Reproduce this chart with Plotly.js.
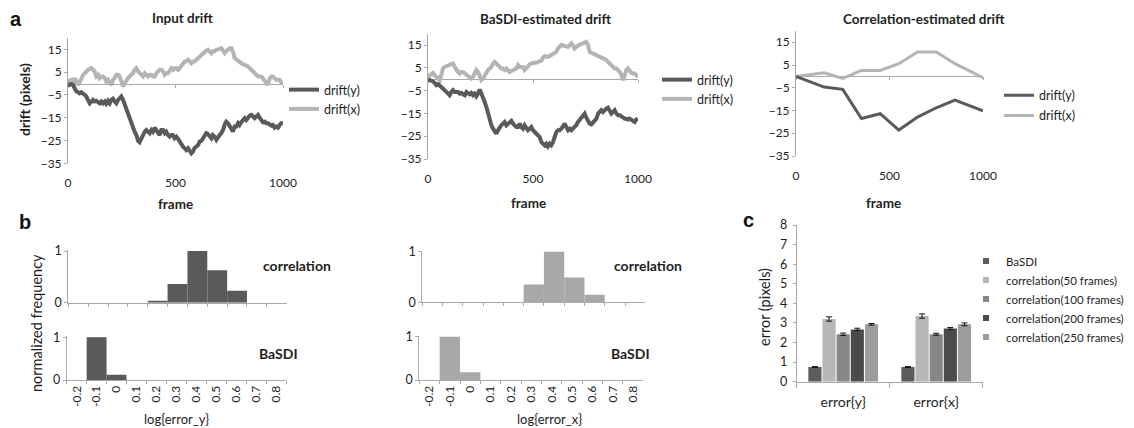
<!DOCTYPE html>
<html><head><meta charset="utf-8">
<script src="https://cdn.plot.ly/plotly-3.0.1.min.js"></script>
<style>html,body{margin:0;padding:0;background:#fff}#chart{width:1134px;height:428px}</style>
</head><body><div id="chart"></div>
<script>
// ---------------- data ----------------
const inputFrames = [0,8,16,23,31,39,47,54,62,70,78,85,93,101,109,116,124,132,140,147,155,163,171,178,186,194,202,209,217,225,233,240,248,256,264,271,279,287,295,302,310,318,326,333,341,349,357,364,372,380,388,395,403,411,419,426,434,442,450,457,465,473,481,488,496,504,512,519,527,535,543,550,558,566,574,581,589,597,605,612,620,628,636,643,651,659,667,674,682,690,698,705,713,721,729,736,744,752,760,767,775,783,791,798,806,814,822,829,837,845,853,860,868,876,884,891,899,907,915,922,930,938,946,953,961,969,977,984,992,1000];
const inputDriftY = [0,-0.6,-0.3,-0.5,-2.1,-3.5,-3.8,-4.3,-3.8,-4.7,
 -5.0,-5.7,-7.2,-8.7,-7.9,-7.2,-7.9,-7.6,-8.2,-8.7,
 -7.9,-8.7,-7.9,-8.9,-7.6,-8.7,-7.2,-6.7,-7.9,-8.7,
 -7.2,-6.3,-5.7,-7.2,-9.4,-10.9,-13.8,-16.0,-18.2,-19.6,
 -21.1,-22.6,-25.2,-25.8,-24.0,-21.8,-21.1,-20.4,-21.1,-21.8,
 -20.4,-21.1,-19.4,-20.4,-21.1,-22.6,-20.4,-20.4,-21.8,-21.1,
 -22.6,-23.3,-22.6,-22.6,-24.0,-23.3,-24.3,-25.5,-26.2,-27.7,
 -28.4,-29.2,-28.4,-29.9,-30.6,-29.9,-28.2,-27.7,-27.0,-25.5,
 -25.2,-24.0,-22.6,-21.8,-22.2,-23.3,-24.0,-22.6,-23.3,-24.7,
 -23.3,-22.6,-21.8,-20.4,-17.9,-16.7,-17.4,-18.9,-19.6,-21.1,
 -18.9,-18.9,-17.4,-18.2,-17.0,-16.0,-15.2,-16.0,-15.0,-14.1,
 -13.8,-14.5,-15.2,-14.5,-13.8,-15.0,-16.0,-17.0,-16.7,-17.4,
 -17.4,-18.2,-18.5,-18.2,-19.4,-18.9,-19.4,-18.2,-17.4,-17.6];
const inputDriftX = [0.9,1.2,1.6,0.2,2.3,1.0,-0.6,0.5,2.3,3.8,
 4.5,5.3,6.0,6.4,6.7,6.0,5.3,3.1,3.8,2.3,
 3.1,3.1,2.3,0.9,1.6,0.2,-0.6,1.6,2.3,3.8,
 3.8,3.1,0.9,-1.3,0.2,1.6,2.3,3.1,3.8,4.5,
 6.0,6.7,5.3,4.5,3.8,3.1,4.5,3.8,3.1,3.8,
 3.8,3.1,3.1,4.5,5.3,6.0,6.0,5.3,3.8,4.5,
 4.5,5.3,6.7,6.0,6.7,6.7,6.0,6.7,7.5,8.9,
 9.7,9.7,10.4,9.7,8.9,9.7,9.7,10.4,11.1,11.8,
 12.6,13.3,14.1,14.4,14.8,13.9,13.3,14.1,14.1,14.8,
 14.8,15.2,15.5,14.4,13.3,14.1,14.8,15.5,15.5,14.1,
 11.1,10.4,9.7,9.2,8.9,8.5,8.2,7.8,7.5,6.7,
 6.0,5.3,4.5,3.8,3.1,3.1,3.1,2.3,0.9,0.2,
 -0.6,2.3,3.1,3.1,2.3,1.6,1.6,1.6,0.5,-0.3];

const basdiFrames = [0,8,16,24,32,40,48,56,63,71,79,87,95,103,111,119,127,135,143,151,159,167,175,183,190,198,206,214,222,230,238,246,254,262,270,278,286,294,302,310,317,325,333,341,349,357,365,373,381,389,397,405,413,421,429,437,444,452,460,468,476,484,492,500,508,516,524,532,540,548,556,563,571,579,587,595,603,611,619,627,635,643,651,659,667,675,683,690,698,706,714,722,730,738,746,754,762,770,778,786,794,802,810,817,825,833,841,849,857,865,873,881,889,897,905,913,921,929,937,944,952,960,968,976,984,992,1000];
const basdiDriftY = [0,-0.2,-0.4,-1.0,-1.6,-2.6,-2.2,-3.1,-3.7,-4.1,
 -4.8,-5.6,-6.3,-7.0,-5.6,-4.8,-5.6,-5.6,-5.6,-6.3,
 -6.0,-6.6,-7.0,-5.6,-6.3,-6.6,-6.0,-7.0,-6.3,-7.5,
 -6.3,-4.5,-6.3,-7.8,-10.0,-12.2,-15.1,-18.0,-20.2,-21.7,
 -23.2,-23.9,-22.4,-21.0,-20.2,-19.5,-18.8,-20.2,-19.5,-18.8,
 -18.3,-19.5,-20.2,-21.0,-21.0,-19.5,-21.0,-21.7,-20.2,-21.0,
 -22.4,-21.7,-21.0,-22.4,-23.2,-23.9,-24.6,-25.4,-27.6,-28.3,
 -29.0,-28.3,-29.5,-28.3,-29.0,-27.6,-25.4,-23.2,-22.4,-22.4,
 -21.7,-20.2,-19.5,-21.0,-22.4,-21.7,-22.4,-21.7,-21.0,-20.2,
 -18.8,-18.0,-16.6,-15.8,-15.1,-16.9,-18.0,-19.5,-19.8,-18.8,
 -18.0,-17.3,-15.1,-14.4,-13.6,-14.4,-13.3,-12.9,-12.5,-13.6,
 -15.1,-14.4,-13.6,-15.1,-15.8,-15.8,-16.3,-16.9,-17.3,-17.3,
 -17.7,-17.3,-18.0,-18.3,-18.8,-17.7,-17.3];
const basdiDriftX = [1.0,1.8,2.5,2.8,1.8,1.0,0.3,-0.4,1.8,4.7,
 5.4,5.7,6.0,6.2,6.5,6.9,5.4,4.0,3.2,2.5,
 3.2,3.2,2.5,1.8,1.4,1.0,0.3,1.0,2.5,4.0,
 3.2,1.0,-0.4,0.3,1.8,3.2,4.0,4.7,5.4,6.9,
 7.6,6.9,6.2,5.4,4.7,4.7,4.0,4.7,4.0,3.2,
 3.6,4.0,4.4,4.7,6.2,5.4,5.4,5.4,4.0,5.0,
 6.2,6.5,6.9,6.9,6.9,7.3,7.6,7.8,8.1,9.5,
 10.1,10.0,9.8,10.2,10.6,10.9,11.3,12.0,13.5,14.2,
 15.0,14.8,14.5,14.4,14.2,15.0,15.7,14.8,13.5,14.2,
 15.0,15.2,15.4,15.7,16.0,16.4,15.0,12.0,11.6,11.3,
 11.0,10.6,10.3,10.1,9.5,9.1,8.8,8.4,7.6,6.9,
 6.2,5.4,4.7,4.7,4.0,3.2,1.8,-0.4,1.8,4.0,
 4.7,3.6,2.8,2.5,2.5,1.8,1.0];

const corrFrames = [0,150,250,350,450,550,650,750,850,1000];
const corrDriftY = [0,-4.7,-5.7,-18.5,-16.4,-23.6,-17.9,-13.8,-10.4,-15.2];
const corrDriftX = [0,1.6,-0.9,2.6,2.6,5.6,10.7,10.7,5.6,-0.6];

const driftTicks = [-35,-25,-15,-5,5,15];
const frameTicks = [0,500,1000];

const histBins = ["-0.2","-0.1","0","0.1","0.2","0.3","0.4","0.5","0.6","0.7","0.8"];
const histCorrErrY  = [0,0,0,0,0.04,0.36,1.0,0.63,0.23,0,0];
const histBasdiErrY = [0,1.0,0.12,0,0,0,0,0,0,0,0];
const histCorrErrX  = [0,0,0,0,0,0.35,1.0,0.49,0.15,0,0];
const histBasdiErrX = [0,1.0,0.18,0,0,0,0,0,0,0,0];

const errCategories = ["error{y}","error{x}"];
const errSeriesNames = ["BaSDI","correlation(50 frames)","correlation(100 frames)","correlation(200 frames)","correlation(250 frames)"];
const errBasdi   = [0.75,0.75];  const errBasdiSd   = [0.02,0.02];
const errCorr50  = [3.20,3.35];  const errCorr50Sd  = [0.11,0.11];
const errCorr100 = [2.42,2.42];  const errCorr100Sd = [0.06,0.05];
const errCorr200 = [2.67,2.72];  const errCorr200Sd = [0.06,0.05];
const errCorr250 = [2.93,2.93];  const errCorr250Sd = [0.04,0.07];

// ---------------- styling ----------------
const W = 1134, H = 428;
const P = x => x / W;
const Q = y => 1 - y / H;
const xdom = (l, r) => [P(l), P(r)];
const ydom = (b, t) => [Q(b), Q(t)];
const FONT = 'Lato, "Open Sans", "Liberation Sans", sans-serif';
const TXT = '#1e1e1e';
const AX = '#a9a9a9';
const DARK = '#5a5a5a', LIGHT = '#b4b4b4';
const HIST_DARK = '#5a5a5a', HIST_LIGHT = '#a8a8a8';
const BAR_COLORS = ['#5c5c5c','#b7b7b7','#878787','#4b4b4b','#9c9c9c'];
const TICK = 12;

const yRangeA = [-35, 20];
function zeroPos(dom){ return dom[0] + (0 - yRangeA[0]) / (yRangeA[1] - yRangeA[0]) * (dom[1] - dom[0]); }

const domA = [
  {x: xdom(68, 283), y: ydom(163.3, 37.9)},
  {x: xdom(428, 638), y: ydom(159, 33.6)},
  {x: xdom(796, 983), y: ydom(156, 30.9)}
];

const layout = {
  width: W, height: H, margin: {l:0, r:0, t:0, b:0},
  paper_bgcolor: '#fff', plot_bgcolor: 'rgba(0,0,0,0)',
  font: {family: FONT, color: TXT, size: 12},
  barmode: 'group', bargap: 0.24, bargroupgap: 0.07,
  showlegend: true,
  annotations: []
};

function aY(i, anchor){
  return {domain: domA[i].y, range: yRangeA, tickvals: driftTicks, ticks: 'outside', ticklen: 3,
    tickcolor: AX, showline: true, linecolor: AX, linewidth: 1, showgrid: false, zeroline: false,
    tickfont: {size: TICK, color: TXT}, anchor: anchor, fixedrange: true};
}
function aX(i, anchor){
  return {domain: domA[i].x, range: [0, 1000], tickvals: frameTicks, ticks: '', showline: false,
    showgrid: false, zeroline: false, tickfont: {size: TICK, color: TXT}, anchor: anchor,
    ticklabelstandoff: 11, fixedrange: true};
}
function aXzero(i, base){
  return {overlaying: base, anchor: 'free', position: zeroPos(domA[i].y), range: [0, 1000],
    tickvals: frameTicks, ticks: 'outside', ticklen: 3, tickcolor: AX, showline: true, linecolor: AX,
    linewidth: 1, showticklabels: false, showgrid: false, zeroline: false, layer: 'below traces', fixedrange: true};
}
layout.xaxis = aX(0, 'y');   layout.yaxis = aY(0, 'x');
layout.xaxis2 = aX(1, 'y2'); layout.yaxis2 = aY(1, 'x2');
layout.xaxis3 = aX(2, 'y3'); layout.yaxis3 = aY(2, 'x3');
layout.xaxis9 = aXzero(0, 'x');
layout.xaxis10 = aXzero(1, 'x2');
layout.xaxis11 = aXzero(2, 'x3');

function hX(dx, anchor, labels){
  return {domain: dx, type: 'category', categoryorder: 'array', categoryarray: histBins,
    range: [-0.5, histBins.length - 0.5], tickson: 'boundaries', ticks: 'outside', ticklen: 3,
    tickcolor: AX, showline: true, linecolor: AX, showgrid: false, zeroline: false,
    showticklabels: labels, tickangle: -90, tickfont: {size: 12, color: TXT}, anchor: anchor, fixedrange: true};
}
function hY(dy, anchor){
  return {domain: dy, range: [0, 1.02], tickvals: [0, 1], ticks: 'outside', ticklen: 3, tickcolor: AX,
    showline: true, linecolor: AX, showgrid: false, zeroline: false, tickfont: {size: 12.5, color: TXT},
    anchor: anchor, fixedrange: true};
}
layout.xaxis4 = hX(xdom(68.3, 286.7), 'y4', false); layout.yaxis4 = hY(ydom(302.7, 250), 'x4');
layout.xaxis5 = hX(xdom(66.7, 286), 'y5', true);    layout.yaxis5 = hY(ydom(380, 336.4), 'x5');
layout.xaxis6 = hX(xdom(422.3, 645.3), 'y6', false); layout.yaxis6 = hY(ydom(302.3, 250.7), 'x6');
layout.xaxis7 = hX(xdom(419.3, 643.3), 'y7', true);  layout.yaxis7 = hY(ydom(380, 335.8), 'x7');

layout.xaxis8 = {domain: xdom(796.7, 982.7), type: 'category', categoryorder: 'array', categoryarray: errCategories,
  range: [-0.5, 1.5], tickson: 'boundaries', ticks: 'outside', ticklen: 5, tickcolor: AX, showline: true,
  linecolor: AX, showgrid: false, zeroline: false, tickfont: {size: 14, color: TXT}, ticklabelstandoff: 7,
  anchor: 'y8', fixedrange: true};
layout.yaxis8 = {domain: ydom(381.7, 225), range: [0, 8], dtick: 1, ticks: 'outside', ticklen: 3, tickcolor: AX,
  showline: true, linecolor: AX, showgrid: false, zeroline: false, tickfont: {size: 12.5, color: TXT},
  ticklabelstandoff: 3, anchor: 'x8', fixedrange: true};

// legends
const legBase = {xanchor: 'left', yanchor: 'top', font: {size: 12.5, color: TXT}, bgcolor: 'rgba(0,0,0,0)',
  borderwidth: 0, itemclick: false, itemdoubleclick: false, tracegroupgap: 0};
layout.legend  = Object.assign({}, legBase, {x: P(284), y: Q(75)});
layout.legend2 = Object.assign({}, legBase, {x: P(657), y: Q(65)});
layout.legend3 = Object.assign({}, legBase, {x: P(999), y: Q(80.5), tracegroupgap: 1});
layout.legend4 = Object.assign({}, legBase, {x: P(966), y: Q(246.5), font: {size: 11.5, color: TXT}});

// ---------------- traces ----------------
const traces = [];
function driftPair(frames, dy, dx, xb, xz, ya, leg, w, grp){
  traces.push({type: 'scatter', mode: 'lines', x: frames, y: dx, xaxis: xb, yaxis: ya, name: 'drift(x)',
    line: {color: LIGHT, width: w}, legend: leg, legendrank: 2, legendgroup: grp + 'x', hoverinfo: 'skip'});
  traces.push({type: 'scatter', mode: 'lines', x: frames, y: dy, xaxis: xz, yaxis: ya, name: 'drift(y)',
    line: {color: DARK, width: w}, legend: leg, legendrank: 1, legendgroup: grp + 'y', hoverinfo: 'skip'});
}
driftPair(inputFrames, inputDriftY, inputDriftX, 'x', 'x9', 'y', 'legend', 4, 'a');
driftPair(basdiFrames, basdiDriftY, basdiDriftX, 'x2', 'x10', 'y2', 'legend2', 4, 'b');
driftPair(corrFrames, corrDriftY, corrDriftX, 'x3', 'x11', 'y3', 'legend3', 3, 'c');

function histBar(vals, xa, ya, color){
  traces.push({type: 'bar', x: histBins, y: vals, xaxis: xa, yaxis: ya, width: 1, offset: -0.5,
    marker: {color: color, line: {width: 0}}, showlegend: false, hoverinfo: 'skip'});
}
histBar(histCorrErrY, 'x4', 'y4', HIST_DARK);
histBar(histBasdiErrY, 'x5', 'y5', HIST_DARK);
histBar(histCorrErrX, 'x6', 'y6', HIST_LIGHT);
histBar(histBasdiErrX, 'x7', 'y7', HIST_LIGHT);

const errVals = [errBasdi, errCorr50, errCorr100, errCorr200, errCorr250];
const errSds = [errBasdiSd, errCorr50Sd, errCorr100Sd, errCorr200Sd, errCorr250Sd];
errSeriesNames.forEach((nm, i) => {
  traces.push({type: 'bar', x: errCategories, y: errVals[i], xaxis: 'x8', yaxis: 'y8', name: nm,
    marker: {color: BAR_COLORS[i], line: {width: 0}}, showlegend: false, hoverinfo: 'skip',
    error_y: {type: 'data', array: errSds[i], visible: true, color: '#111', thickness: 1, width: 3}});
});
errSeriesNames.forEach((nm, i) => {
  traces.push({type: 'scatter', mode: 'markers', x: [null], y: [null], xaxis: 'x8', yaxis: 'y8', name: nm,
    marker: {symbol: 'square', size: 6, color: BAR_COLORS[i]}, legend: 'legend4', legendgroup: 'e' + i,
    hoverinfo: 'skip'});
});

// ---------------- text ----------------
function ann(text, x, y, size, opts){
  layout.annotations.push(Object.assign({text: text, x: P(x), y: Q(y), xref: 'paper', yref: 'paper',
    xanchor: 'center', yanchor: 'middle', showarrow: false, font: {size: size, color: TXT, family: FONT}}, opts || {}));
}
const LBL = '"Liberation Sans", Arial, sans-serif';
ann('<b>a</b>', 15.5, 18.5, 20, {font: {size: 20, color: '#111', family: LBL}});
ann('<b>b</b>', 24.5, 222, 20, {font: {size: 20, color: '#111', family: LBL}});
ann('<b>c</b>', 748, 220, 20, {font: {size: 20, color: '#111', family: LBL}});
ann('<b>Input drift</b>', 182, 18, 13.5);
ann('<b>BaSDI-estimated drift</b>', 545, 19, 13.5);
ann('<b>Correlation-estimated drift</b>', 923.5, 19, 13.5);
ann('<b>drift (pixels)</b>', 24, 100, 14, {textangle: -90});
ann('<b>frame</b>', 175, 204, 13.5);
ann('<b>frame</b>', 528, 203, 13.5);
ann('<b>frame</b>', 883, 203, 13.5);
ann('normalized frequency', 36, 323, 14.5, {textangle: -90});
ann('<b>correlation</b>', 297, 265, 14);
ann('<b>BaSDI</b>', 278.7, 353, 14);
ann('<b>correlation</b>', 648.3, 265, 14);
ann('<b>BaSDI</b>', 630.5, 353, 14);
ann('log{error_y}', 176.7, 419, 13);
ann('log{error_x}', 549, 419, 13);
ann('error (pixels)', 764, 307, 14.5, {textangle: -90});

Plotly.newPlot('chart', traces, layout, {displayModeBar: false, staticPlot: true});
</script></body></html>
